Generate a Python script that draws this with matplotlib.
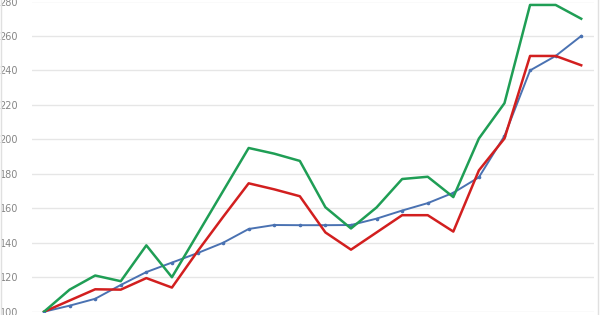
import matplotlib
matplotlib.use("Agg")
import matplotlib.pyplot as plt
from matplotlib.lines import Line2D

periods = list(range(22))
blue = [100, 103.5, 107.5, 115.5, 123, 128.5, 134, 140, 148, 150.3, 150.2, 150.2,
        150.3, 154, 158.7, 163, 169, 178, 202, 240, 248.4, 260]
red = [100, 106.5, 113, 112.8, 119.5, 114, 135, 155, 174.5, 171, 167, 146,
       136, 146, 156, 156, 146.5, 182, 200.5, 248.4, 248.4, 243]
green = [100, 112.8, 121, 117.7, 138.5, 120, 145, 170, 195, 191.7, 187.5, 160.6,
         148.3, 160.5, 177, 178.3, 166.5, 200.5, 221, 278, 278, 270]
yticks = [100, 120, 140, 160, 180, 200, 220, 240, 260, 280]

fig = plt.figure(figsize=(6, 3.15), dpi=100)
ax = fig.add_axes([32/600, 1 - 311.7/315, (594-32)/600, (311.7-1.5)/315])

ax.plot(periods, blue, color="#4a72b2", lw=1.4, marker="o", ms=1.6, zorder=3)
ax.plot(periods, red, color="#d21f1f", lw=1.8, zorder=4)
ax.plot(periods, green, color="#1f9e55", lw=1.8, zorder=5)

ax.set_xlim(-0.47, 21.5)
ax.set_ylim(100, 280)
ax.set_yticks(yticks)
ax.set_yticklabels([str(v) for v in yticks])
ax.set_xticks([])
ax.grid(axis="y", color="#e6e6e6", lw=1)
ax.set_axisbelow(True)
for s in ax.spines.values():
    s.set_visible(False)
ax.tick_params(axis="y", length=0, pad=10, labelsize=7, labelcolor="#858585")

fig.add_artist(Line2D([0.5/600, 0.5/600], [0, 1], color="#e0e0e0", lw=1, transform=fig.transFigure))
fig.add_artist(Line2D([597.5/600, 597.5/600], [0, 1], color="#e0e0e0", lw=1, transform=fig.transFigure))

fig.savefig("out.png", dpi=100)
